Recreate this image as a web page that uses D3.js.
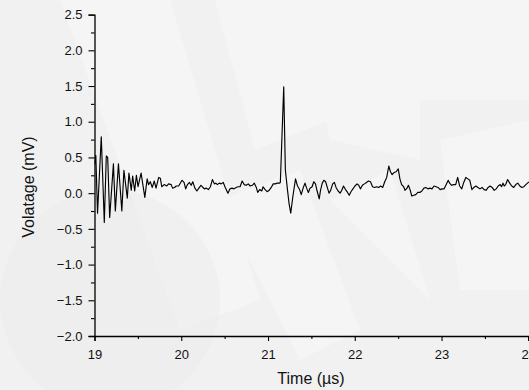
<!DOCTYPE html>
<html><head><meta charset="utf-8">
<script src="https://cdn.jsdelivr.net/npm/d3@7/dist/d3.min.js"></script>
<style>html,body{margin:0;padding:0;background:#f2f2f2;}svg{display:block;font-family:"Liberation Sans",Arial,sans-serif;}</style>
</head><body>
<script>
// Data (time in µs, voltage in mV)
const times = [19.000,19.015,19.035,19.078,19.113,19.136,19.152,19.175,19.218,19.240,19.276,19.315,19.339,19.378,19.397,19.424,19.440,19.463,19.483,19.502,19.537,19.580,19.607,19.623,19.643,19.666,19.689,19.709,19.740,19.759,19.775,
19.802,19.833,19.853,19.884,19.900,19.923,19.942,19.970,20.009,20.032,20.051,20.071,20.094,20.114,20.133,20.157,20.180,20.203,20.227,20.242,20.266,20.289,20.312,20.336,20.359,20.382,20.398,20.417,20.437,20.460,20.484,20.507,20.538,20.562,20.585,20.608,20.632,20.655,20.678,20.702,20.725,20.748,20.772,20.795,20.819,20.842,20.865,20.881,20.904,20.928,20.943,20.967,20.990,21.013,21.037,21.060,21.083,21.107,21.130,21.142,
21.181,21.200,21.224,21.243,21.262,21.286,21.317,21.340,21.364,21.383,21.407,21.426,21.445,21.465,21.484,21.508,21.527,21.547,21.566,21.590,21.605,21.625,21.644,21.664,21.683,21.703,21.722,21.745,21.765,21.784,21.808,21.831,21.850,21.870,21.893,21.917,21.936,21.956,21.979,22.002,22.026,22.045,22.065,22.088,22.111,22.135,22.158,22.181,22.205,22.228,22.252,22.275,22.298,22.322,22.345,22.368,22.392,22.411,22.431,22.454,22.477,22.501,22.520,22.540,22.563,22.579,22.602,22.618,22.637,22.657,22.680,22.703,22.727,22.750,22.773,22.797,22.820,22.843,22.867,22.890,22.913,22.937,22.960,22.984,23.007,23.030,23.054,23.077,23.093,23.116,23.139,23.163,23.186,23.209,23.233,23.256,23.280,23.303,23.326,23.350,23.373,23.396,23.420,23.443,23.467,23.490,23.513,23.537,23.560,23.583,23.607,23.630,23.653,23.677,23.692,23.708,23.723,23.739,23.762,23.786,23.809,23.832,23.856,23.879,23.902,23.926,23.949,23.972,24.000,24.020];
const volts = [0.40,0.53,-0.28,0.79,-0.41,0.52,0.50,-0.34,0.41,-0.25,0.41,-0.25,0.32,-0.07,0.28,0.04,0.24,0.03,0.25,0.09,0.28,-0.06,0.20,0.12,0.16,0.08,0.17,0.07,0.22,0.21,0.09,
0.12,0.10,0.13,0.12,0.07,0.08,0.10,0.10,0.18,0.15,0.06,0.12,0.15,0.11,0.16,0.07,0.03,0.07,0.11,0.09,0.06,0.07,0.05,0.09,0.19,0.13,0.14,0.12,0.14,0.13,0.15,0.08,0.00,0.06,0.07,0.06,0.08,0.09,0.09,0.17,0.12,0.11,0.13,0.10,0.11,0.14,0.08,0.01,0.05,0.03,0.09,0.05,0.02,0.04,0.08,0.13,0.13,0.14,0.14,0.15,
1.49,0.32,0.05,-0.15,-0.28,-0.05,0.20,0.10,0.05,-0.02,0.08,0.14,0.07,0.01,0.07,0.09,0.16,0.13,0.03,-0.08,0.04,0.14,0.18,0.16,0.08,0.00,0.04,0.13,0.15,0.08,0.03,0.00,0.04,0.10,0.05,0.01,-0.03,0.02,0.06,0.10,0.13,0.11,0.06,0.11,0.13,0.15,0.17,0.16,0.09,0.08,0.09,0.08,0.10,0.08,0.16,0.22,0.38,0.30,0.26,0.29,0.30,0.34,0.20,0.12,0.09,0.04,0.07,0.11,0.05,-0.04,-0.03,-0.02,0.01,0.01,0.03,0.07,0.08,0.06,0.07,0.06,0.10,0.09,0.08,0.05,0.06,0.06,0.12,0.18,0.14,0.11,0.12,0.12,0.22,0.10,0.06,0.15,0.22,0.20,0.18,0.05,0.08,0.10,0.08,0.06,0.08,0.05,0.04,0.08,0.10,0.08,0.04,0.06,0.10,0.12,0.09,0.14,0.10,0.12,0.19,0.14,0.10,0.08,0.12,0.14,0.10,0.08,0.09,0.12,0.15,0.16];
const xTicks = [19,20,21,22,23,24];
const xMinorTicks = [19.5,20.5,21.5,22.5,23.5];
const yTicks = [-2.0,-1.5,-1.0,-0.5,0.0,0.5,1.0,1.5,2.0,2.5];
const yMinorTicks = [-1.75,-1.25,-0.75,-0.25,0.25,0.75,1.25,1.75,2.25];
const xLabel = "Time (µs)";
const yLabel = "Volatage (mV)";

const W = 529, H = 390;
const m = {left:94.5, right:0.7, top:14.6, bottom:54};
const svg = d3.select("body").append("svg").attr("width",W).attr("height",H);

// background with faint watermark shapes
svg.append("rect").attr("width",W).attr("height",H).attr("fill","#f1f1f1");
const wm = [
  [[60,0],[170,0],[260,300],[180,330]],
  [[215,0],[300,0],[330,120],[255,150]],
  [[300,0],[420,0],[420,160],[330,140]],
  [[420,0],[529,0],[529,100],[410,100]],
  [[220,200],[300,170],[360,330],[300,360]],
  [[330,200],[390,170],[430,300]],
  [[440,140],[529,120],[529,290],[460,290]]
];
svg.append("g").selectAll("path").data(wm).join("path")
  .attr("d",d=>"M"+d.map(p=>p.join(",")).join("L")+"Z")
  .attr("fill","#f5f5f5");
svg.append("circle").attr("cx",110).attr("cy",300).attr("r",110).attr("fill","#ededed").attr("opacity",0.6);

const x = d3.scaleLinear().domain([19,24]).range([m.left, W - m.right]);
const y = d3.scaleLinear().domain([-2.0,2.5]).range([H - m.bottom, m.top]);

svg.append("clipPath").attr("id","clip").append("rect")
  .attr("x",m.left).attr("y",0).attr("width",W-m.left).attr("height",H-m.bottom);

const pts = times.map((t,i)=>[t, volts[i]]);
svg.append("path").datum(pts)
  .attr("clip-path","url(#clip)")
  .attr("fill","none").attr("stroke","#000").attr("stroke-width",1.15)
  .attr("stroke-linejoin","round")
  .attr("d", d3.line().x(d=>x(d[0])).y(d=>y(d[1])));

// axes
const fmt = d3.format(".1f");
svg.append("g").attr("transform",`translate(0,${H-m.bottom})`)
  .call(d3.axisBottom(x).tickValues(xTicks).tickFormat(d3.format("d")).tickSize(5).tickPadding(9));
svg.append("g").attr("transform",`translate(0,${H-m.bottom})`)
  .call(d3.axisBottom(x).tickValues(xMinorTicks).tickFormat("").tickSize(3))
  .call(g=>g.select(".domain").remove());
svg.append("g").attr("transform",`translate(${m.left},0)`)
  .call(d3.axisLeft(y).tickValues(yTicks).tickFormat(fmt).tickSize(6).tickPadding(6));
svg.append("g").attr("transform",`translate(${m.left},0)`)
  .call(d3.axisLeft(y).tickValues(yMinorTicks).tickFormat("").tickSize(3.5))
  .call(g=>g.select(".domain").remove());

svg.selectAll(".domain").attr("stroke","#000").attr("stroke-width",1.3);
svg.selectAll(".tick line").attr("stroke","#000").attr("stroke-width",1.1);
svg.selectAll(".tick text").attr("fill","#111").style("font-size","13px").style("font-family","'Liberation Sans',Arial,sans-serif");

svg.append("text").attr("x",311).attr("y",384)
  .attr("text-anchor","middle").style("font-size","16px").attr("fill","#111").text(xLabel);
svg.append("text").attr("transform",`translate(34,187) rotate(-90)`)
  .attr("text-anchor","middle").style("font-size","16px").attr("fill","#111").text(yLabel);
</script>
</body></html>
